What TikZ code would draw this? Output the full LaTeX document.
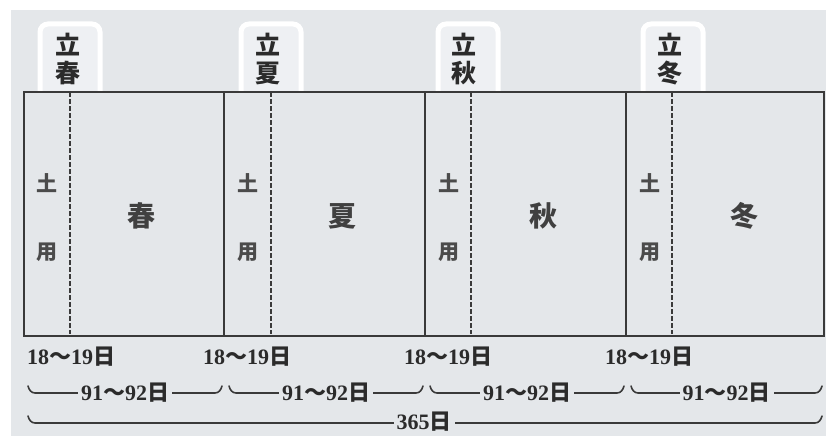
\documentclass[tikz,border=0pt]{standalone}
\usepackage{fontspec}
\usetikzlibrary{calc}
\setmainfont{Liberation Serif}
\newfontfamily\cjk{Noto Sans CJK JP}
\definecolor{bg}{HTML}{E4E7EA}
\definecolor{hl}{HTML}{EEF0F3}
\definecolor{ink}{HTML}{2B2B2B}
\definecolor{linec}{HTML}{3A3A3A}
\newcommand{\days}[2]{{\bfseries #1}{\cjk\bfseries ～}{\bfseries #2}{\cjk\bfseries 日}}
\begin{document}
\begin{tikzpicture}[x=1pt,y=-1pt,
  frame/.style={line width=2.4pt, draw=linec},
  divider/.style={line width=2pt, draw=linec},
  dashdiv/.style={line width=2.2pt, draw=linec, dash pattern=on 5pt off 2pt},
  glow/.style={draw=white, line width=5pt, fill=hl, rounded corners=8pt},
  tagtext/.style={font=\cjk\bfseries\fontsize{25}{28}\selectfont, align=center, inner sep=0pt, text=ink},
  dotext/.style={font=\cjk\bfseries\fontsize{21}{24}\selectfont, inner sep=0pt, text=ink!85},
  seasontext/.style={font=\cjk\bfseries\fontsize{28}{30}\selectfont, inner sep=0pt, text=ink!90},
  daytext/.style={font=\fontsize{22}{24}\selectfont, inner sep=0pt, text=ink},
  spantext/.style={font=\fontsize{22}{24}\selectfont, inner sep=3pt, fill=bg, text=ink},
  bracket/.style={line width=1.6pt, draw=linec, line cap=round}]
\useasboundingbox (0,0) rectangle (826,436);
\fill[white] (0,0) rectangle (826,436);
\fill[bg] (11,10) rectangle (826,436);

% highlights behind the tag labels
\foreach \hx in {40,241,438,643}{
  \filldraw[glow] (\hx,91) -- (\hx,24) -- (\hx+60,24) -- (\hx+60,91);
}
\node[tagtext] (t1) at (68,59) {立\\春};
\node[tagtext] (t2) at (268,59) {立\\夏};
\node[tagtext] (t3) at (464,59) {立\\秋};
\node[tagtext] (t4) at (670,59) {立\\冬};

% frame and dividers
\node[frame, minimum width=800pt, minimum height=244pt, anchor=north west, inner sep=0pt] (box) at (23,91) {};
\coordinate (d1t) at (224,91); \coordinate (d1b) at (224,335);
\coordinate (d2t) at (425,91); \coordinate (d2b) at (425,335);
\coordinate (d3t) at (626,91); \coordinate (d3b) at (626,335);
\draw[divider] (d1t) -- (d1b);
\draw[divider] (d2t) -- (d2b);
\draw[divider] (d3t) -- (d3b);
\coordinate (k1t) at (70,92);  \coordinate (k1b) at (70,334);
\coordinate (k2t) at (271,92); \coordinate (k2b) at (271,334);
\coordinate (k3t) at (471,92); \coordinate (k3b) at (471,334);
\coordinate (k4t) at (672,92); \coordinate (k4b) at (672,334);
\draw[dashdiv] (k1t) -- (k1b);
\draw[dashdiv] (k2t) -- (k2b);
\draw[dashdiv] (k3t) -- (k3b);
\draw[dashdiv] (k4t) -- (k4b);

% 土用 and seasons
\foreach \n/\x/\s in {1/23/春,2/224/夏,3/425/秋,4/626/冬}{
  \node[dotext] (do\n) at (\x+24,183) {土};
  \node[dotext] (yo\n) at (\x+24,252) {用};
  \node[seasontext] (se\n) at (\x+118,216) {\s};
}

% 18~19 days labels
\node[daytext, anchor=west] (a1) at (27,357) {\days{18}{19}};
\node[daytext, anchor=west] (a2) at (203,357) {\days{18}{19}};
\node[daytext, anchor=west] (a3) at (404,357) {\days{18}{19}};
\node[daytext, anchor=west] (a4) at (605,357) {\days{18}{19}};

% 91~92 day brackets
\foreach \n/\xa/\xb in {1/28/222,2/229/423,3/430/624,4/631/822}{
  \coordinate (bl\n) at (\xa,386);
  \coordinate (br\n) at (\xb,386);
  \draw[bracket] (bl\n) to[out=-75,in=180] ++(7,7) -- ($(br\n)+(-7,7)$) to[out=0,in=-105] (br\n);
  \node[spantext] (q\n) at ({(\xa+\xb)/2},393) {\days{91}{92}};
}

% 365 days bracket
\coordinate (yl) at (28,416);
\coordinate (yr) at (822,416);
\draw[bracket] (yl) to[out=-75,in=180] ++(7,7) -- ($(yr)+(-7,7)$) to[out=0,in=-105] (yr);
\node[spantext] (year) at (424,422) {{\bfseries 365}{\cjk\bfseries 日}};
\end{tikzpicture}
\end{document}
